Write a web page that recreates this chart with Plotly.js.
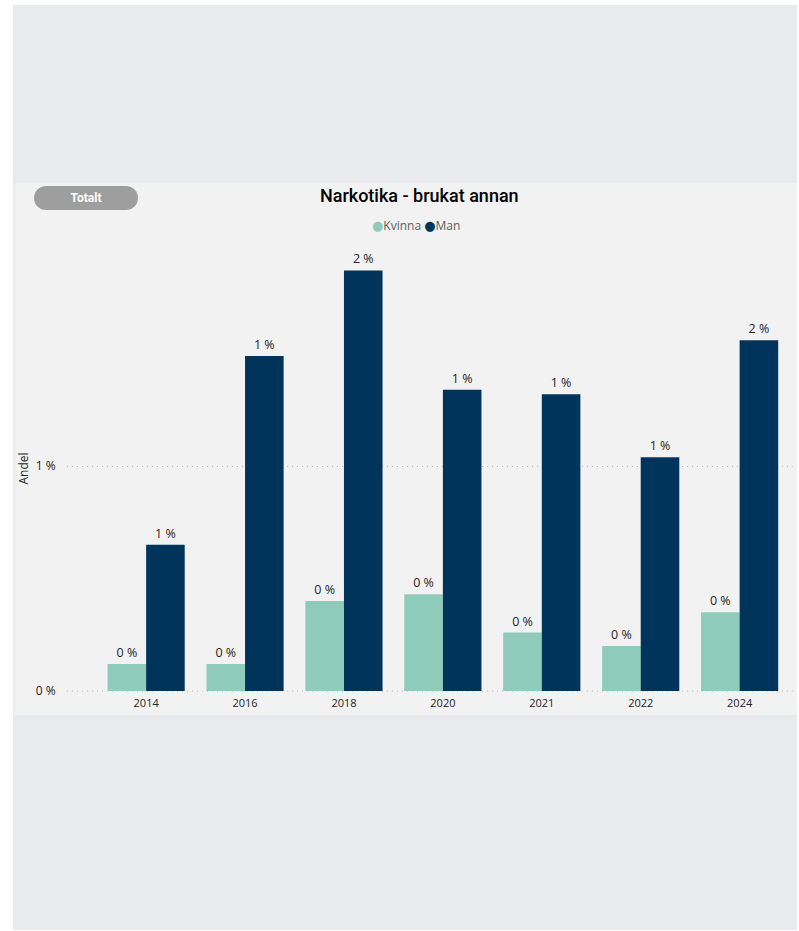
<!DOCTYPE html>
<html>
<head>
<meta charset="utf-8">
<script src="https://cdn.plot.ly/plotly-3.0.1.min.js"></script>
<style>
  html, body { margin:0; padding:0; background:#ffffff; width:799px; height:931px; overflow:hidden; }
  #outer { position:absolute; left:13px; top:5px; width:784px; height:925px; background:#e9eaed; }
  #chart { position:absolute; left:15px; top:183px; width:782px; height:532px; }
  #btn { position:absolute; left:34px; top:186px; width:104px; height:24px; border-radius:12px;
         background:#9e9e9e; color:#ffffff; font-family:Roboto, 'Open Sans', sans-serif; font-weight:700;
         font-size:12px; line-height:24px; text-align:center; z-index:5; }
</style>
</head>
<body>
<div id="outer"></div>
<div id="chart"></div>
<div id="btn">Totalt</div>
<script>
const years = ['2014','2016','2018','2020','2021','2022','2024'];
const kvinna = [0.12, 0.12, 0.40, 0.43, 0.26, 0.20, 0.35];
const man = [0.65, 1.49, 1.87, 1.34, 1.32, 1.04, 1.56];
const seriesNames = ['Kvinna','Man'];
const colors = ['#8fcbbb','#00345a'];
const yTickVals = [0, 1];
const yTickText = ['0 %','1 %'];

function lbl(arr){ return arr.map(v => Math.round(v) + ' %'); }

const font = "'Segoe UI', 'Open Sans', sans-serif";
const traces = [kvinna, man].map((vals, i) => ({
  type:'bar', x: years, y: vals, name: seriesNames[i],
  marker:{color: colors[i]}, text: lbl(vals), textposition:'outside',
  textfont:{size:12.5, color:'#252423', family:font}, cliponaxis:false,
  showlegend:false, hoverinfo:'x+y'
}));

const legendText = seriesNames.map((n, i) =>
  '<span style="color:' + colors[i] + ';font-family:DejaVu Sans;font-size:13px">●</span>' + n).join(' ');

const layout = {
  width:782, height:532,
  paper_bgcolor:'#f2f2f2', plot_bgcolor:'#f2f2f2',
  margin:{l:52, r:0, t:62, b:23},
  font:{family:font, color:'#252423'},
  title:{text:'Narkotika - brukat annan', x:0.517, xref:'container', xanchor:'center',
         y:1-13/532, yref:'container', yanchor:'middle',
         font:{family:'Roboto, sans-serif', size:18, color:'#000000', weight:500}},
  barmode:'group', bargap:0.22, bargroupgap:0,
  showlegend:false,
  annotations:[{text:legendText, xref:'paper', yref:'paper', x:0.478, y:1.043,
                xanchor:'center', yanchor:'middle', showarrow:false,
                font:{size:12, color:'#605e5c', family:font}}],
  shapes:[{type:'line', xref:'paper', yref:'y', x0:0, x1:1, y0:0, y1:0, layer:'below',
           line:{color:'#bdbdbd', width:1, dash:'1px,4px'}}],
  xaxis:{type:'category', range:[-0.8, 6.58], showgrid:false, zeroline:false, showline:false,
         ticks:'', ticklabelstandoff:3, tickfont:{size:11, color:'#252423'}, fixedrange:true},
  yaxis:{range:[-0.004, 1.983], tickvals:yTickVals, ticktext:yTickText, showgrid:true,
         gridcolor:'#bdbdbd', griddash:'1px,4px', gridwidth:1, zeroline:false, showline:false,
         ticks:'outside', ticklen:8, tickcolor:'rgba(0,0,0,0)',
         tickfont:{size:12, color:'#252423'},
         title:{text:'Andel', font:{size:12, color:'#252423'}, standoff:6}, fixedrange:true}
};
Plotly.newPlot('chart', traces, layout, {displayModeBar:false, staticPlot:true});
</script>
</body>
</html>
